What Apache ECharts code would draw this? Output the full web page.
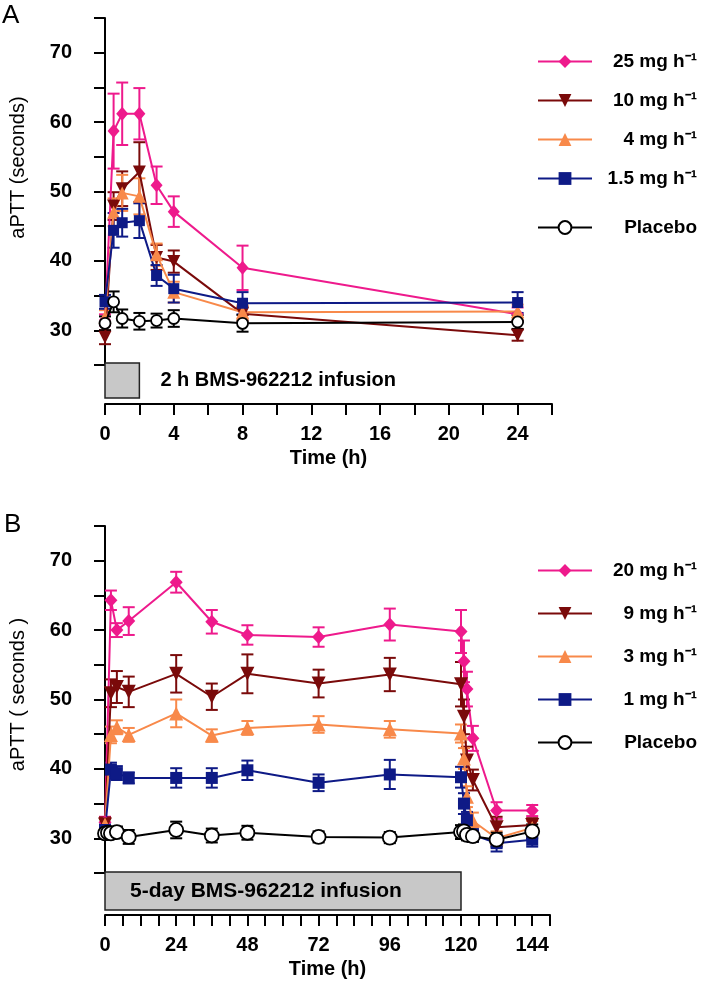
<!DOCTYPE html>
<html><head><meta charset="utf-8">
<script src="https://cdn.jsdelivr.net/npm/echarts@6/dist/echarts.min.js"></script>
<style>html,body{margin:0;padding:0;background:#fff}#c{width:709px;height:986px}</style>
</head><body><div id="c"></div>
<script>
// ---------- Panel A (2 h infusion) ----------
const timeA = [0, 0.5, 1, 2, 3, 4, 8, 24];
const a25 = [31.5, 58.7, 61.2, 61.2, 50.9, 47.1, 39.0, 32.3];
const a25e = [0.8, 5.4, 4.5, 3.7, 2.7, 2.2, 3.2, 1.0];
const a10 = [29.0, 47.9, 50.4, 52.8, 40.5, 39.9, 32.4, 29.3];
const a10e = [1.0, 2.0, 2.5, 4.3, 1.8, 1.6, 1.0, 0.8];
const a4 = [31.9, 47.0, 49.8, 49.3, 40.9, 35.5, 32.6, 32.7];
const a4e = [1.0, 2.0, 2.6, 2.6, 1.6, 1.5, 1.0, 1.0];
const a15 = [34.1, 44.4, 45.5, 45.8, 37.9, 36.0, 33.9, 34.0];
const a15e = [1.0, 2.5, 2.0, 2.5, 1.5, 2.0, 1.6, 1.5];
const aPl = [31.0, 34.1, 31.7, 31.3, 31.4, 31.7, 31.0, 31.2];
const aPle = [1.0, 1.5, 1.3, 1.2, 1.0, 1.2, 1.2, 1.0];
const infusionA = [0, 2];

// ---------- Panel B (5-day infusion) ----------
const timeB = [0, 1, 2, 4, 8, 24, 36, 48, 72, 96, 120, 121, 122, 124, 132, 144];
const b20 = [32.3, null, 64.3, 60.0, 61.3, 66.9, 61.2, 59.3, 59.0, 60.8, 59.8, 55.5, 51.5, 44.4, 34.0, 34.0];
const b20e = [0.8, null, 1.4, 1.0, 2.0, 1.5, 1.7, 1.4, 1.4, 2.3, 3.1, 3.0, 2.5, 1.8, 1.2, 0.8];
const b9 = [32.0, null, 50.9, 51.8, 51.1, 53.7, 50.4, 53.7, 52.3, 53.6, 52.2, 47.5, 41.2, 38.4, 31.6, 31.9];
const b9e = [1.0, null, 2.0, 2.3, 2.2, 2.7, 1.9, 2.8, 2.0, 2.4, 3.2, 2.5, 2.0, 1.5, 1.5, 1.0];
const b3 = [32.0, null, 44.9, 46.0, 44.9, 48.0, 44.8, 45.9, 46.4, 45.7, 45.1, 41.5, 36.0, 32.5, 30.0, 31.5];
const b3e = [0.8, null, 1.2, 1.0, 1.0, 2.0, 0.9, 1.0, 1.2, 1.2, 1.3, 1.5, 1.5, 1.2, 1.0, 1.0];
const b1 = [31.2, null, 39.9, 39.4, 38.7, 38.7, 38.7, 39.8, 38.0, 39.2, 38.8, 35.0, 32.6, 30.5, 29.3, 29.8];
const b1e = [0.8, null, 1.0, 1.0, 0.8, 1.4, 1.4, 1.4, 1.2, 2.1, 1.5, 1.5, 1.2, 1.0, 1.2, 1.0];
const bPl = [30.7, 30.8, 30.7, 30.9, 30.2, 31.2, 30.4, 30.8, 30.2, 30.1, 30.9, 31.0, 30.5, 30.3, 29.8, 31.0];
const bPle = [0.8, 0.8, 0.8, 0.8, 1.0, 1.2, 1.0, 1.0, 0.8, 0.8, 1.0, 1.0, 0.8, 0.8, 1.0, 1.0];
const infusionB = [0, 120];

const yTicks = [30, 40, 50, 60, 70];
const xTicksA = [0, 4, 8, 12, 16, 20, 24];
const xTicksB = [0, 24, 48, 72, 96, 120, 144];

const PINK = '#EE1A8C', BROWN = '#7A0A0A', ORANGE = '#F8894A', BLUE = '#0E1A86';
const FONT = 'Liberation Sans, Arial, sans-serif';

const labels = {
  'A25': '25 mg h\u207B\u00B9', 'A10': '10 mg h\u207B\u00B9', 'A4': '4 mg h\u207B\u00B9',
  'A15': '1.5 mg h\u207B\u00B9', 'APl': 'Placebo',
  'B20': '20 mg h\u207B\u00B9', 'B9': '9 mg h\u207B\u00B9', 'B3': '3 mg h\u207B\u00B9',
  'B1': '1 mg h\u207B\u00B9', 'BPl': 'Placebo'
};

function pairs(t, v) { const out = []; t.forEach((x, i) => { if (v[i] != null) out.push([x, v[i]]); }); return out; }
function triples(t, v, e) { const out = []; t.forEach((x, i) => { if (v[i] != null) out.push([x, v[i], e[i]]); }); return out; }

function errRender(color, cap) {
  return function (params, api) {
    const x = api.value(0), y = api.value(1), e = api.value(2);
    const top = api.coord([x, y + e]), bot = api.coord([x, y - e]);
    const hw = cap / 2;
    const style = { stroke: color, lineWidth: 2, fill: null };
    return { type: 'group', children: [
      { type: 'line', shape: { x1: top[0], y1: top[1], x2: bot[0], y2: bot[1] }, style },
      { type: 'line', shape: { x1: top[0] - hw, y1: top[1], x2: top[0] + hw, y2: top[1] }, style },
      { type: 'line', shape: { x1: bot[0] - hw, y1: bot[1], x2: bot[0] + hw, y2: bot[1] }, style }
    ]};
  };
}

function errSeries(gi, t, v, e, color, z) {
  return { type: 'custom', xAxisIndex: gi, yAxisIndex: gi, data: triples(t, v, e),
    encode: { x: 0, y: 1 }, renderItem: errRender(color, 12), z: z, silent: true };
}
function lineSeries(gi, name, t, v, color, symbol, size, rotate, z, fill) {
  return { type: 'line', name: name, xAxisIndex: gi, yAxisIndex: gi, data: pairs(t, v),
    symbol: symbol, symbolSize: size, symbolRotate: rotate || 0, showAllSymbol: true,
    lineStyle: { color: color, width: 2 },
    itemStyle: fill ? { color: fill, borderColor: color, borderWidth: 1.8 } : { color: color, borderWidth: 0 },
    z: z, animation: false, silent: true };
}

function boxSeries(gi, span, text, textInside, fontSize, y0, y1, textDx) {
  return { type: 'custom', xAxisIndex: gi, yAxisIndex: gi, data: [span], silent: true, z: 1,
    renderItem: function (params, api) {
      const p0 = api.coord([api.value(0), 25]);
      const p1 = api.coord([api.value(1), 25]);
      const tx = textInside ? p0[0] + textDx : p1[0] + textDx;
      return { type: 'group', children: [
        { type: 'rect', shape: { x: p0[0], y: p0[1] + y0, width: p1[0] - p0[0], height: y1 - y0 },
          style: { fill: '#C8C8C8', stroke: '#222', lineWidth: 1.5 } },
        { type: 'text', x: tx, y: p0[1] + (y0 + y1) / 2,
          style: { text: text, font: 'bold ' + fontSize + 'px ' + FONT, fill: '#000',
                   textAlign: 'left', textVerticalAlign: 'middle' } }
      ]};
    } };
}

function yAxis(gi, name, shift) {
  return { type: 'value', gridIndex: gi, min: 25, max: 75, interval: 5, offset: 13,
    axisLine: { show: true, lineStyle: { color: '#000', width: 2 } },
    axisTick: { show: true, length: 11, lineStyle: { color: '#000', width: 2 } },
    axisLabel: { margin: 20, fontSize: 20, fontWeight: 'bold', fontFamily: FONT, color: '#000',
      formatter: v => (yTicks.indexOf(v) >= 0 ? String(v) : '') },
    splitLine: { show: false },
    name: name, nameLocation: 'middle', nameGap: 64,
    nameTextStyle: { fontSize: 20, fontFamily: FONT, color: '#000', padding: [0, 0, 0, shift] } };
}
function xAxis(gi, max, interval, ticks, offset) {
  return { type: 'value', gridIndex: gi, min: 0, max: max, interval: interval, offset: offset,
    axisLine: { show: true, onZero: false, lineStyle: { color: '#000', width: 2 } },
    axisTick: { show: true, length: 11, lineStyle: { color: '#000', width: 2 } },
    axisLabel: { margin: 20, fontSize: 20, fontWeight: 'bold', fontFamily: FONT, color: '#000',
      showMinLabel: true, showMaxLabel: true,
      formatter: v => (ticks.indexOf(v) >= 0 ? String(v) : '') },
    splitLine: { show: false },
    name: 'Time (h)', nameLocation: 'middle', nameGap: 44,
    nameTextStyle: { fontSize: 20, fontWeight: 'bold', fontFamily: FONT, color: '#000' } };
}

function legend(names, top, gap) {
  return { show: true, orient: 'vertical', left: 537, top: top, itemWidth: 54, itemHeight: 16,
    itemGap: gap, selectedMode: false, data: names, padding: 0,
    formatter: n => '{r|' + labels[n] + '}',
    textStyle: { rich: { r: { width: 100, align: 'right', fontSize: 19, fontWeight: 'bold',
      fontFamily: FONT, color: '#000', lineHeight: 20 } } } };
}

const chart = echarts.init(document.getElementById('c'), null, { renderer: 'canvas' });
chart.setOption({
  animation: false,
  backgroundColor: '#fff',
  grid: [
    { left: 100, top: 18, width: 452, height: 347, containLabel: false },
    { left: 100, top: 526, width: 450, height: 347, containLabel: false }
  ],
  xAxis: [xAxis(0, 26, 2, xTicksA, 39), xAxis(1, 150, 6, xTicksB, 42)],
  yAxis: [yAxis(0, 'aPTT (seconds)', 48), yAxis(1, 'aPTT ( seconds )', 10)],
  legend: [
    legend(['A25', 'A10', 'A4', 'A15'], 52, 20),
    legend(['APl'], 218, 20),
    legend(['B20', 'B9', 'B3', 'B1', 'BPl'], 561, 24)
  ],
  graphic: [
    { type: 'text', left: 2, top: 3, style: { text: 'A', font: '26px ' + FONT, fill: '#000' } },
    { type: 'text', left: 4, top: 512, style: { text: 'B', font: '26px ' + FONT, fill: '#000' } }
  ],
  series: [
    boxSeries(0, infusionA, '2 h BMS-962212 infusion', false, 20, -2, 33, 21),
    boxSeries(1, infusionB, '5-day BMS-962212 infusion', true, 21, -1, 37, 25),

    errSeries(0, timeA, a25, a25e, PINK, 2),
    errSeries(0, timeA, a10, a10e, BROWN, 2),
    errSeries(0, timeA, a4, a4e, ORANGE, 2),
    errSeries(0, timeA, a15, a15e, BLUE, 2),
    errSeries(0, timeA, aPl, aPle, '#000', 2),
    lineSeries(0, 'A25', timeA, a25, PINK, 'diamond', [12, 14], 0, 3),
    lineSeries(0, 'A10', timeA, a10, BROWN, 'triangle', 13, 180, 3),
    lineSeries(0, 'A4', timeA, a4, ORANGE, 'triangle', 13, 0, 3),
    lineSeries(0, 'A15', timeA, a15, BLUE, 'rect', 11, 0, 3),
    lineSeries(0, 'APl', timeA, aPl, '#000', 'circle', 11, 0, 4, '#fff'),

    errSeries(1, timeB, b20, b20e, PINK, 2),
    errSeries(1, timeB, b9, b9e, BROWN, 2),
    errSeries(1, timeB, b3, b3e, ORANGE, 2),
    errSeries(1, timeB, b1, b1e, BLUE, 2),
    errSeries(1, timeB, bPl, bPle, '#000', 2),
    lineSeries(1, 'B20', timeB, b20, PINK, 'diamond', [13, 14], 0, 3),
    lineSeries(1, 'B9', timeB, b9, BROWN, 'triangle', 14, 180, 3),
    lineSeries(1, 'B3', timeB, b3, ORANGE, 'triangle', 14, 0, 3),
    lineSeries(1, 'B1', timeB, b1, BLUE, 'rect', 12, 0, 3),
    lineSeries(1, 'BPl', timeB, bPl, '#000', 'circle', 14, 0, 4, '#fff')
  ]
});
</script>
</body></html>
